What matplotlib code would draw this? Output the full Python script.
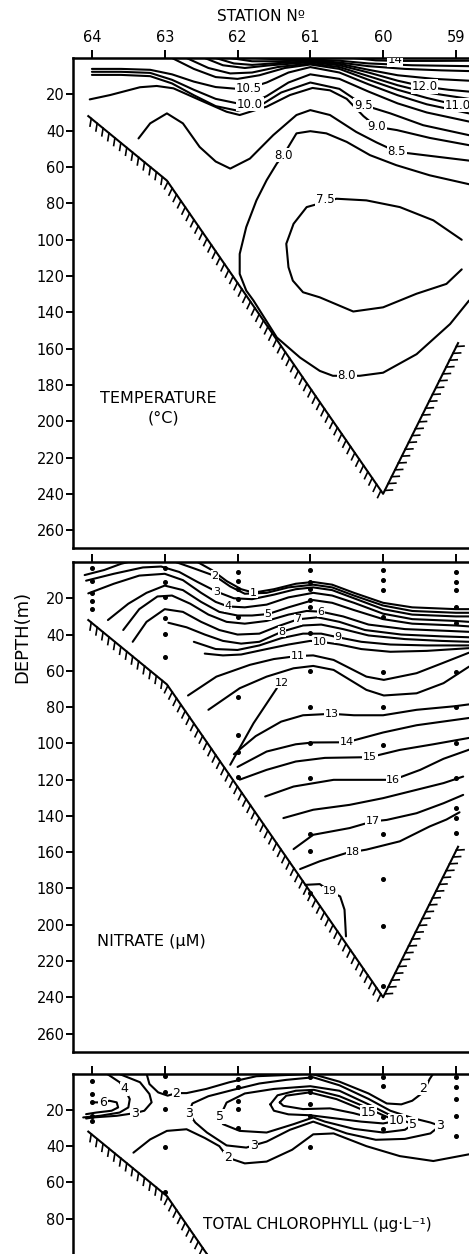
import matplotlib
matplotlib.use("Agg")
import matplotlib.pyplot as plt
import matplotlib.patheffects as pe

# stations along the section (top axis) and depth ticks
stations = [64, 63, 62, 61, 60, 59]
depth_ticks = [20, 40, 60, 80, 100, 120, 140, 160, 180, 200, 220, 240, 260]
chl_depth_ticks = [20, 40, 60, 80]

# sea floor profile (station, depth m)
floor_st = [64.05, 62.97, 60.0, 58.97]
floor_dp = [32.0, 67.5, 240.0, 157.0]

# ---------------- temperature isolines (station, depth) ----------------
temp_140 = [(60.4, 0.0), (60.1, 1.3), (59.8, 1.6), (59.3, 1.6), (58.82, 1.5)]
temp_135 = [(61.75, 0.0), (61.35, 1.0), (61.0, 0.8), (60.6, 1.5), (60.2, 3.0), (59.6, 4.0), (58.82, 4.5)]
temp_130 = [(62.1, 0.0), (61.8, 1.8), (61.4, 1.8), (61.0, 1.2), (60.6, 2.5), (60.2, 4.5), (59.7, 6.0),
            (59.2, 6.8), (58.82, 7.2)]
temp_125 = [(62.3, 0.0), (62.05, 3.0), (61.8, 3.8), (61.45, 2.8), (61.0, 1.8), (60.6, 3.2), (60.2, 6.5),
            (59.8, 9.5), (59.3, 11.5), (58.82, 12.5)]
temp_120 = [(62.45, 0.0), (62.2, 4.0), (61.9, 5.5), (61.55, 4.0), (61.0, 2.3), (60.6, 4.0), (60.2, 8.0),
            (59.8, 12.5), (59.43, 15.8), (59.1, 17.5), (58.82, 18.5)]
temp_115 = [(62.7, 0.0), (62.4, 5.5), (62.1, 8.5), (61.8, 8.0), (61.45, 5.0), (61.0, 3.0), (60.6, 5.0),
            (60.2, 10.0), (59.8, 15.0), (59.4, 19.0), (58.82, 22.5)]
temp_110 = [(62.9, 0.0), (62.6, 6.0), (62.3, 10.5), (62.0, 11.5), (61.7, 9.5), (61.35, 5.5), (61.0, 3.6),
            (60.6, 6.0), (60.2, 12.0), (59.8, 17.5), (59.4, 22.0), (58.99, 25.9), (58.82, 27.0)]
temp_105 = [(64.0, 6.0), (63.6, 6.0), (63.2, 6.5), (62.9, 9.0), (62.6, 13.0), (62.3, 16.0), (62.0, 17.0),
            (61.85, 16.7), (61.6, 13.5), (61.3, 8.0), (61.0, 5.0), (60.6, 8.0), (60.2, 14.5), (59.8, 20.5),
            (59.4, 25.5), (58.82, 30.5)]
temp_100 = [(64.0, 7.6), (63.6, 7.6), (63.2, 8.2), (62.9, 12.0), (62.6, 17.5), (62.3, 22.5), (62.0, 25.0),
            (61.83, 25.3), (61.6, 21.0), (61.3, 13.5), (61.0, 9.0), (60.6, 11.5), (60.2, 18.5), (59.8, 25.0),
            (59.4, 30.0), (58.82, 35.0)]
temp_095 = [(64.0, 9.3), (63.6, 9.3), (63.2, 10.0), (62.9, 14.0), (62.6, 20.5), (62.3, 26.5), (62.0, 29.0),
            (61.7, 26.5), (61.4, 19.0), (61.0, 13.5), (60.6, 17.0), (60.27, 25.9), (59.9, 30.5),
            (59.45, 37.0), (58.82, 42.5)]
temp_090 = [(64.03, 22.8), (63.75, 20.4), (63.34, 16.1), (63.11, 15.4), (62.88, 16.7), (62.52, 23.1),
            (62.15, 29.6), (61.97, 31.4), (61.6, 26.8), (61.28, 20.4), (60.97, 16.5), (60.73, 17.8),
            (60.5, 22.5), (60.27, 32.0), (60.09, 37.9), (59.81, 39.7), (59.36, 44.0), (58.82, 48.0)]
temp_085 = [(63.36, 44.3), (63.2, 36.0), (62.97, 30.5), (62.75, 36.0), (62.52, 49.0), (62.3, 57.0),
            (62.1, 60.9), (61.83, 55.4), (61.51, 42.5), (61.19, 31.4), (61.0, 28.7), (60.73, 31.4),
            (60.37, 40.7), (60.09, 46.5), (59.81, 51.7), (59.62, 52.6), (58.82, 56.5)]
temp_080 = [(58.82, 69.5), (59.36, 64.6), (59.82, 59.0), (60.18, 53.5), (60.5, 46.2), (60.78, 41.5),
            (61.0, 40.3), (61.19, 41.5), (61.37, 53.5), (61.46, 58.1), (61.6, 67.3), (61.74, 78.4),
            (61.88, 93.1), (61.97, 107.9), (61.97, 118.9), (61.88, 128.1), (61.78, 133.6), (61.46, 153.9),
            (61.14, 165.0), (60.87, 172.3), (60.69, 175.0), (60.5, 175.0), (60.32, 175.0), (60.0, 173.3),
            (59.54, 163.1), (59.08, 146.5), (58.82, 133.6)]
temp_075 = [(58.92, 100.1), (59.31, 89.4), (59.77, 82.1), (60.23, 78.4), (60.64, 77.5), (61.05, 82.1),
            (61.23, 91.3), (61.33, 102.3), (61.3, 115.2), (61.24, 122.6), (61.1, 129.0), (60.87, 131.8),
            (60.41, 139.6), (60.0, 137.3), (59.54, 129.8), (59.13, 124.4), (58.92, 116.4)]

temp_labels = [("14", 59.84, 0.8), ("12.0", 59.43, 15.8), ("11.0", 58.97, 25.9), ("10.5", 61.85, 16.7),
               ("10.0", 61.83, 25.4), ("9.5", 60.27, 25.9), ("9.0", 60.09, 37.9), ("8.5", 59.81, 51.7),
               ("8.0", 61.37, 53.5), ("7.5", 60.8, 78.0), ("8.0", 60.5, 175.0)]

# ---------------- nitrate isolines ----------------
nit_a = [(64.1, 7.2), (63.83, 4.4), (63.6, 1.0), (63.5, 0.0)]
nit_01 = [(62.55, 0.0), (62.35, 4.5), (62.15, 10.5), (61.95, 15.0), (61.78, 16.9), (61.5, 15.0), (61.2, 12.0),
          (60.96, 11.0), (60.7, 12.5), (60.4, 17.0), (60.0, 22.5), (59.6, 25.0), (59.0, 26.0), (58.82, 26.0)]
nit_02 = [(62.85, 0.0), (62.6, 3.5), (62.31, 7.7), (62.1, 13.5), (61.9, 17.5), (61.6, 17.0), (61.3, 14.0),
          (60.96, 12.5), (60.7, 14.0), (60.4, 18.5), (60.0, 24.0), (59.6, 27.0), (59.0, 28.0), (58.82, 28.0)]
nit_03 = [(64.08, 10.3), (63.7, 6.5), (63.3, 3.0), (63.05, 2.5), (62.8, 5.5), (62.55, 11.0), (62.29, 16.3),
          (62.05, 20.0), (61.8, 20.5), (61.5, 18.0), (61.2, 15.0), (60.96, 14.0), (60.7, 15.5), (60.4, 20.0),
          (60.0, 26.0), (59.6, 29.0), (59.0, 30.0), (58.82, 30.0)]
nit_04 = [(64.05, 17.3), (63.7, 12.0), (63.35, 7.5), (63.0, 6.5), (62.75, 10.0), (62.5, 17.0), (62.3, 22.0),
          (62.13, 24.5), (61.9, 25.0), (61.6, 23.5), (61.3, 19.5), (60.96, 17.0), (60.7, 18.5), (60.4, 22.5),
          (60.0, 28.5), (59.6, 31.5), (59.0, 32.5), (58.82, 33.0)]
nit_05 = [(63.78, 32.0), (63.5, 23.0), (63.25, 17.0), (63.0, 13.0), (62.75, 15.5), (62.5, 22.0), (62.25, 27.5),
          (62.0, 29.5), (61.8, 29.5), (61.58, 28.7), (61.3, 25.0), (60.96, 21.0), (60.7, 22.5), (60.4, 26.5),
          (60.0, 31.5), (59.6, 34.0), (59.0, 35.0), (58.82, 35.5)]
nit_06 = [(63.57, 37.5), (63.35, 26.0), (63.1, 19.0), (62.9, 18.5), (62.65, 23.0), (62.4, 29.0), (62.15, 33.0),
          (61.9, 34.0), (61.6, 32.5), (61.3, 29.0), (61.05, 27.0), (60.85, 27.4), (60.55, 30.0), (60.2, 34.5),
          (59.7, 37.0), (59.1, 38.0), (58.82, 38.5)]
nit_07 = [(63.44, 44.0), (63.25, 33.0), (63.0, 26.0), (62.75, 27.5), (62.5, 33.0), (62.25, 37.5), (62.0, 40.0),
          (61.7, 39.5), (61.45, 35.5), (61.17, 31.6), (60.9, 30.5), (60.6, 33.0), (60.25, 37.5), (59.75, 40.0),
          (59.2, 41.0), (58.82, 41.5)]
nit_08 = [(62.95, 33.5), (62.7, 36.0), (62.45, 40.0), (62.2, 43.5), (61.95, 45.0), (61.7, 44.0), (61.39, 38.4),
          (61.1, 35.0), (60.85, 34.5), (60.55, 37.0), (60.2, 40.5), (59.7, 42.5), (59.2, 43.5), (58.82, 44.0)]
nit_09 = [(62.6, 44.0), (62.3, 48.0), (62.0, 48.5), (61.7, 46.0), (61.4, 42.0), (61.1, 39.5), (60.85, 39.5),
          (60.62, 41.5), (60.3, 44.0), (59.9, 45.5), (59.4, 46.0), (58.82, 46.0)]
nit_10 = [(62.45, 50.5), (62.2, 51.5), (61.95, 51.0), (61.6, 48.0), (61.3, 45.5), (61.0, 43.5), (60.87, 43.9),
          (60.6, 45.5), (60.3, 48.0), (59.9, 49.5), (59.4, 49.0), (58.82, 47.5)]
nit_11 = [(62.68, 73.6), (62.29, 63.2), (61.83, 56.7), (61.5, 53.5), (61.17, 51.8), (60.96, 51.5), (60.68, 54.0),
          (60.23, 63.2), (59.99, 65.0), (59.54, 61.3), (59.2, 56.0), (58.82, 50.0)]
nit_12 = [(62.4, 81.5), (61.97, 69.6), (61.6, 63.2), (61.23, 58.6), (60.96, 57.3), (60.68, 59.5), (60.23, 70.5),
          (59.99, 73.6), (59.54, 72.4), (59.17, 66.8), (58.82, 57.7)]
nit_12b = [(62.1, 111.8), (61.78, 88.9), (61.46, 69.6)]
nit_13 = [(62.05, 106.0), (61.75, 96.0), (61.4, 88.0), (61.1, 84.5), (60.71, 83.7), (60.4, 84.5), (60.0, 84.5),
          (59.54, 81.5), (59.01, 79.5), (58.82, 78.5)]
nit_14 = [(62.0, 113.0), (61.6, 104.5), (61.2, 100.5), (60.96, 99.5), (60.5, 99.4), (60.0, 94.0), (59.54, 90.0),
          (59.0, 87.0), (58.82, 86.0)]
nit_15 = [(61.97, 120.0), (61.6, 114.6), (61.2, 110.0), (60.8, 108.0), (60.18, 107.6), (59.77, 103.6),
          (59.31, 100.5), (58.82, 97.0)]
nit_16 = [(61.62, 129.3), (61.23, 123.8), (60.68, 120.1), (59.86, 120.1), (59.49, 114.6), (59.17, 108.5),
          (58.82, 103.5)]
nit_16b = [(61.37, 141.2), (60.96, 136.6), (60.46, 133.9), (60.0, 130.2), (59.54, 125.6), (59.17, 121.9),
           (58.9, 118.3)]
nit_17 = [(61.23, 158.3), (60.96, 150.4), (60.46, 146.7), (60.14, 143.0), (59.95, 142.2), (59.54, 138.5),
          (59.17, 133.0), (58.9, 128.4)]
nit_18 = [(61.14, 169.3), (60.87, 165.0), (60.5, 160.4), (60.23, 158.6), (59.77, 154.0), (59.36, 145.8),
          (59.13, 142.0), (58.95, 138.0)]
nit_19 = [(61.07, 178.0), (60.87, 177.6), (60.73, 181.6), (60.59, 184.4), (60.53, 191.7), (60.51, 206.4)]

nit_labels = [("1", 61.78, 16.9), ("2", 62.31, 7.7), ("3", 62.29, 16.3), ("4", 62.13, 24.5), ("5", 61.58, 28.7),
              ("6", 60.85, 27.4), ("7", 61.17, 31.6), ("8", 61.39, 38.4), ("9", 60.62, 41.5), ("10", 60.87, 43.9),
              ("11", 61.17, 51.8), ("12", 61.39, 66.5), ("13", 60.71, 83.7), ("14", 60.5, 99.4),
              ("15", 60.18, 107.6), ("16", 59.86, 120.1), ("17", 60.14, 143.0), ("18", 60.41, 160.0),
              ("19", 60.73, 181.6)]

# nitrate sampling depths per station
nit_samples = [
    (64, [3.5, 10.3, 16.9, 21.3, 26.0]),
    (63, [3.5, 11.2, 19.1, 31.0, 39.8, 52.2]),
    (62, [5.3, 10.3, 15.1, 20.6, 30.1, 74.2, 95.3, 104.5, 118.3]),
    (61, [4.4, 11.0, 15.1, 20.9, 24.6, 39.3, 59.9, 79.7, 99.6, 119.2, 149.9, 159.6, 182.5]),
    (60, [4.4, 9.7, 15.2, 30.1, 60.4, 79.7, 100.8, 149.9, 174.8, 200.6, 233.6]),
    (59, [5.3, 10.9, 15.4, 25.0, 33.4, 60.4, 79.7, 99.6, 119.2, 135.7, 141.2, 149.5]),
]

# ---------------- chlorophyll isolines ----------------
chl_4 = [(63.80, 0.0), (63.62, 4.8), (63.55, 8.5), (63.48, 14.1), (63.50, 18.7), (63.62, 21.5), (63.89, 23.3),
         (64.12, 24.2)]
chl_3a = [(63.64, 0.0), (63.34, 4.8), (63.21, 11.3), (63.18, 15.9), (63.28, 20.5), (63.41, 21.8), (63.66, 23.3),
          (63.99, 24.2), (64.08, 24.8)]
chl_6 = [(63.98, 15.9), (63.85, 15.9), (63.76, 15.0), (63.66, 15.9), (63.64, 18.7), (63.73, 20.5), (63.94, 21.5),
         (64.08, 22.4)]
chl_2a = [(63.25, 0.0), (63.21, 5.8), (63.09, 10.4), (62.96, 12.2), (62.84, 10.8), (62.70, 10.8), (62.43, 8.5),
          (62.11, 4.8), (61.74, 1.5), (61.3, 0.8), (61.0, 0.0)]
chl_2b = [(61.0, 0.0), (60.6, 4.5), (60.2, 11.0), (59.95, 16.5), (59.75, 17.0), (59.6, 15.0), (59.45, 10.4),
          (59.36, 3.0), (59.31, 0.0)]
chl_2c = [(63.43, 43.6), (63.2, 36.3), (62.97, 31.6), (62.7, 30.7), (62.45, 35.5), (62.25, 40.0), (62.13, 46.4),
          (61.9, 49.5), (61.6, 48.5), (61.25, 42.0), (60.96, 33.5), (60.68, 33.0), (60.23, 40.0), (59.77, 45.5),
          (59.31, 48.2), (58.82, 44.5)]
chl_3m = [(62.67, 21.8), (62.62, 16.5), (62.4, 12.5), (62.06, 9.0), (61.7, 5.5), (61.33, 3.5), (60.96, 2.1),
          (60.6, 6.5), (60.2, 14.0), (59.9, 20.5), (59.6, 24.5), (59.35, 27.0), (59.22, 28.8), (59.35, 33.0),
          (59.7, 36.0), (60.1, 36.5), (60.5, 33.0), (60.96, 26.5), (61.28, 31.0), (61.6, 37.5), (61.78, 39.6),
          (61.88, 40.8), (62.15, 39.6), (62.42, 32.5), (62.58, 27.0), (62.67, 21.8)]
chl_5 = [(62.24, 23.7), (62.15, 16.0), (61.9, 11.0), (61.5, 8.5), (61.0, 7.0), (60.6, 9.5), (60.2, 17.0),
         (59.85, 24.0), (59.65, 27.0), (59.59, 27.9), (59.7, 31.0), (60.0, 32.5), (60.4, 30.5), (60.8, 26.5),
         (60.96, 24.2), (61.23, 27.9), (61.6, 32.5), (61.97, 31.6), (62.2, 27.9), (62.24, 23.7)]
chl_10 = [(61.55, 17.0), (61.45, 12.0), (61.2, 9.5), (60.95, 9.0), (60.6, 12.5), (60.3, 17.5), (60.0, 23.0),
          (59.81, 26.1), (60.0, 27.5), (60.3, 26.5), (60.7, 24.5), (61.0, 23.0), (61.3, 22.5), (61.5, 20.5),
          (61.55, 17.0)]
chl_15 = [(61.42, 15.9), (61.33, 12.2), (61.01, 10.4), (60.64, 14.1), (60.36, 18.7), (60.20, 21.5), (60.27, 23.3),
          (60.41, 21.8), (60.73, 19.2), (61.10, 19.6), (61.37, 17.8), (61.42, 15.9)]

chl_labels = [("4", 63.55, 8.5), ("6", 63.85, 15.9), ("3", 63.41, 21.8), ("2", 62.84, 10.8), ("3", 62.67, 21.8),
              ("5", 62.24, 23.7), ("3", 61.78, 39.6), ("2", 62.13, 46.4), ("15", 60.20, 21.5), ("10", 59.81, 26.1),
              ("5", 59.59, 27.9), ("3", 59.22, 28.8), ("2", 59.45, 8.0)]

chl_samples = [
    (64, [3.9, 11.3, 15.6, 23.3, 26.1]),
    (63, [1.2, 10.4, 19.6, 40.3, 65.4]),
    (62, [3.0, 7.6, 15.0, 19.6, 30.1]),
    (61, [2.0, 10.4, 16.8, 23.3, 40.3]),
    (60, [2.0, 6.7, 24.2, 30.3]),
    (59, [2.0, 7.6, 14.0, 23.3, 34.4]),
]


def draw_line(ax, pts):
    xs = [p[0] for p in pts]
    ys = [p[1] for p in pts]
    ax.plot(xs, ys, color="black", lw=1.5, solid_joinstyle="round",
            solid_capstyle="round", zorder=2)


def put_labels(ax, labels, size):
    for txt, s, d in labels:
        ax.text(s, d, txt, fontsize=size, ha="center", va="center", zorder=4,
                clip_on=True,
                bbox=dict(boxstyle="square,pad=0.06", fc="white", ec="none"))


def put_samples(ax, samples):
    for st, depths in samples:
        ax.plot([st] * len(depths), depths, "o", color="black", ms=2.6,
                zorder=3, clip_on=True)


def setup(ax, ymax, yticks, top_labels, bottom_spine=True):
    ax.set_xlim(64.26, 58.82)
    ax.set_ylim(ymax, 0)
    ax.xaxis.set_ticks_position("top")
    ax.set_xticks(stations)
    if top_labels:
        ax.set_xticklabels([str(s) for s in stations])
    else:
        ax.set_xticklabels([])
    ax.set_yticks(yticks)
    ax.tick_params(axis="x", direction="out", length=6, width=1.4,
                   labelsize=10.5, pad=3)
    ax.tick_params(axis="y", direction="out", length=5, width=1.4,
                   labelsize=10.5, pad=1)
    for side in ["left", "top", "bottom"]:
        ax.spines[side].set_linewidth(1.8)
    ax.spines["right"].set_visible(False)
    if not bottom_spine:
        ax.spines["bottom"].set_visible(False)
    ax.plot(floor_st, floor_dp, color="black", lw=1.5, zorder=2.5,
            path_effects=[pe.withTickedStroke(angle=-60, spacing=5.5,
                                              length=1.0, linewidth=1.2)])


fig = plt.figure(figsize=(4.69, 12.54), dpi=100)
left = 73 / 469
width = 1 - left

# temperature
ax1 = fig.add_axes([left, 1 - 548.3 / 1254, width, 490.3 / 1254])
setup(ax1, 270, depth_ticks, True)
for line in [temp_140, temp_135, temp_130, temp_125, temp_120, temp_115, temp_110,
             temp_105, temp_100, temp_095, temp_090, temp_085, temp_080, temp_075]:
    draw_line(ax1, line)
put_labels(ax1, temp_labels, 8.5)
ax1.text(63.09, 187.4, "TEMPERATURE", fontsize=11.5, ha="center", va="center")
ax1.text(63.02, 198.3, "(°C)", fontsize=11.5, ha="center", va="center")

# nitrate
ax2 = fig.add_axes([left, 1 - 1051.7 / 1254, width, 489.7 / 1254])
setup(ax2, 270, depth_ticks, False)
for line in [nit_a, nit_01, nit_02, nit_03, nit_04, nit_05, nit_06, nit_07, nit_08,
             nit_09, nit_10, nit_11, nit_12, nit_12b, nit_13, nit_14, nit_15,
             nit_16, nit_16b, nit_17, nit_18, nit_19]:
    draw_line(ax2, line)
put_samples(ax2, nit_samples)
put_labels(ax2, nit_labels, 8)
ax2.text(63.18, 209.2, "NITRATE (μM)", fontsize=11.5, ha="center", va="center")

# chlorophyll
ax3 = fig.add_axes([left, 0.0, width, 180.5 / 1254])
setup(ax3, 99.4, chl_depth_ticks, False, bottom_spine=False)
for line in [chl_4, chl_3a, chl_6, chl_2a, chl_2b, chl_2c, chl_3m, chl_5, chl_10, chl_15]:
    draw_line(ax3, line)
put_samples(ax3, chl_samples)
put_labels(ax3, chl_labels, 9)
ax3.text(62.48, 83.3, "TOTAL CHLOROPHYLL (μg·L⁻¹)", fontsize=11, ha="left", va="center")

fig.text(261 / 469, 1 - 16.5 / 1254, "STATION Nº", fontsize=11, ha="center", va="center")
fig.text(22 / 469, 1 - 637 / 1254, "DEPTH(m)", fontsize=13, ha="center", va="center",
         rotation=90)

fig.savefig("out.png", dpi=100)
